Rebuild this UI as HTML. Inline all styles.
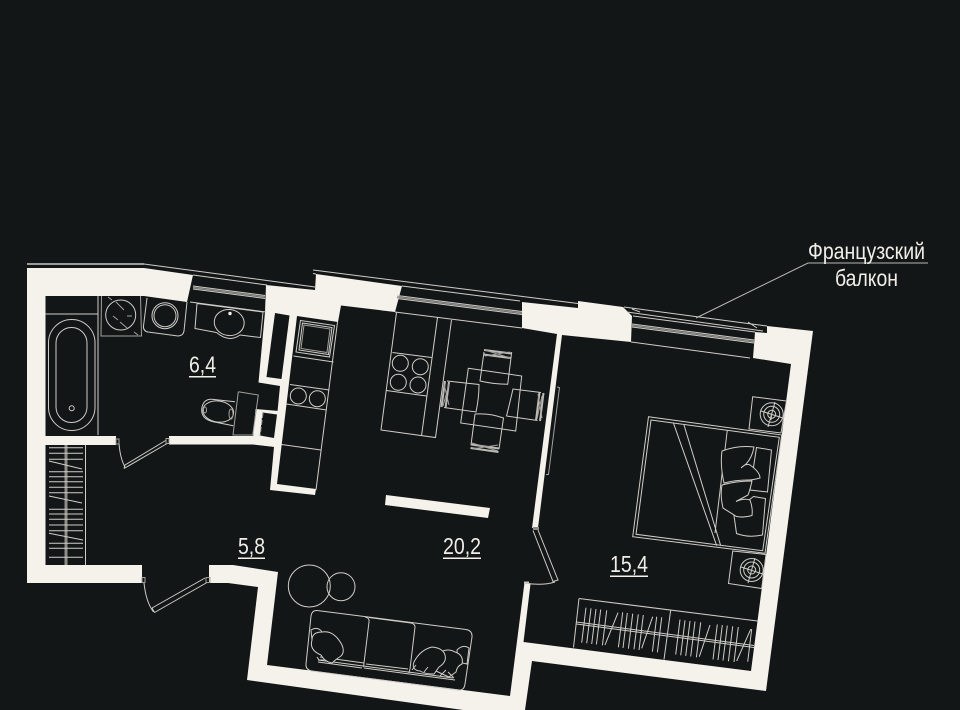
<!DOCTYPE html>
<html lang="ru">
<head>
<meta charset="utf-8">
<title>План квартиры</title>
<style>
html,body{margin:0;padding:0;background:#131617;}
svg{display:block;}
text{font-family:"Liberation Sans",sans-serif;fill:#f0eee8;}
.l{fill:none;stroke:#cfcdc8;stroke-width:1;}
.g{fill:none;stroke:#a2a19d;stroke-width:1;}
.b{fill:#131617;stroke:#cfcdc8;stroke-width:1;}
.w{fill:#f5f2ec;}
.d{fill:#131617;}
</style>
</head>
<body>
<svg width="960" height="710" viewBox="0 0 960 710" xmlns="http://www.w3.org/2000/svg">
<rect width="960" height="710" fill="#131617"/>

<!-- walls -->
<polygon class="w" points="27,268 144,268 193,275 187,302 144,296 45.5,296 45.5,436 116,436 116,445 45.5,445 45.5,565 142,565 142,583 27,583"/>
<polygon class="w" points="169,436 253,436 280,440 275,447 253,444.5 169,444.5"/>
<polygon class="w" points="209,565 233,565 278,572 267,665 510,696 524.5,582.5 530.5,584 523.5,642 751,671 791,364 753,358 755,332 767,333 767,326 813,331 766,691 532,661 525,710 463,710 247,680 258,587 228,583 209,583"/>
<polygon class="w" points="266,285 315,290 316,274 402,286 395,312 341,305.5 338,322 297,316 277,484 316,489 315,495 270,490 274,447 280,386 258.5,382.5 265,312"/>
<polygon class="d" points="275,313 289.5,315.5 281.5,379 266.5,377"/>
<polygon class="w" points="255.5,409 279,411 275,447 252.5,444"/>
<polygon class="d" points="262.5,412.5 277,414.5 274,438 260,435.5"/>
<polygon class="w" points="522,302 578,308 578,301 623,307 632,316 631,342 562,335 538,528 532,528 557,334 522,328"/>
<polygon class="w" points="386,495 490,508 488,518 385,505"/>

<!-- upper lines and windows, left section -->
<path d="M27,264H144" fill="none" stroke="#9c9b97" stroke-width="2"/>
<path class="l" d="M144,264L315,287"/>
<path class="l" d="M193,275L267,285"/>
<path class="l" d="M193,286L265,295.5M193,289L265,298.5M190,302L266,312"/>
<path class="l" d="M313,270L578,303.5M313,273.5L316,274"/>
<path class="l" d="M402,286L520,301"/>
<path class="l" d="M397,295.5L522,311.5M397,298.5L522,314.5M395,312L522,328"/>
<path d="M397,297L522,313" stroke="#8d8c88" stroke-width="1.5" fill="none"/>
<path d="M193,287.5L265,297" stroke="#8d8c88" stroke-width="1.5" fill="none"/>

<!-- French balcony -->
<path class="l" d="M624,307L767,326M627,312L763,331M633,316L755,332M632,324L754,340M632,327L754,343M631,342L750,358M632,309L640,312M748,322L757,328"/>
<path d="M632,325.5L754,341.5" stroke="#8d8c88" stroke-width="1.5" fill="none"/>
<path d="M696,318L808,263H928" fill="none" stroke="#b9b8b3" stroke-width="1"/>
<text x="808" y="259" font-size="23" textLength="117" lengthAdjust="spacingAndGlyphs">Французский</text>
<text x="835" y="286" font-size="23" textLength="63" lengthAdjust="spacingAndGlyphs">балкон</text>

<!-- bath -->
<path class="l" d="M45,314H98M98,296V435"/>
<rect class="l" x="48.5" y="319.5" width="46.5" height="111" rx="23.2"/>
<rect class="l" x="56" y="327.5" width="31" height="95" rx="15.5"/>
<circle class="l" cx="71.7" cy="408.3" r="2.5"/>

<!-- washer -->
<path class="g" d="M101.5,296L101,336H141.5L140.5,296"/>
<circle class="l" cx="120.7" cy="315" r="15"/>
<path class="g" d="M108,297L112,300M116,302L124,310M127,316H132M113,316L118,320M120,322L127,328M134,332L138,335"/>
<path class="l" d="M147,298L143.5,326Q143,331 148,332L178,336Q183,336 184,331L187,302"/>
<circle class="l" cx="165" cy="315.7" r="13"/>
<circle class="l" cx="165" cy="315.7" r="11"/>

<!-- sink -->
<path class="l" d="M197,303.5L195,328.5L216.5,332.5M240,335L260.5,337.5L263,312M197,303.5L263,312"/>
<ellipse class="l" cx="229.3" cy="322.5" rx="15" ry="13" transform="rotate(8 229 322)"/>
<path class="l" d="M216.5,332.5Q229,343 240,335"/>
<circle cx="230" cy="313.5" r="1.7" fill="#f5f2ec"/>

<!-- toilet -->
<path class="g" d="M238.3,391.7L258.3,395L252.7,435H233L238.3,391.7"/>
<path class="l" d="M235,401.7L211.7,399.3Q203,399 201.7,409Q201,419 213.3,421.7L233.3,425.7"/>
<ellipse class="l" cx="218.3" cy="411.5" rx="15.5" ry="10.5" transform="rotate(8 218 411)"/>
<ellipse class="g" cx="205" cy="410" rx="1.5" ry="3"/>
<ellipse class="g" cx="231" cy="414" rx="2" ry="5"/>
<path class="g" d="M263,413L260,436" stroke-dasharray="5 2"/>

<!-- door 1 -->
<path class="l" d="M119,443Q120,458 125,467"/>
<path class="l" d="M125,465L166.5,440M124,468.5L168,443M125,465L124,468.5"/>
<rect class="g" x="116" y="439" width="3" height="5"/>
<rect class="g" x="166" y="438.5" width="3" height="5"/>

<!-- hall wardrobe -->
<path class="l" d="M85.5,445V565"/>
<path d="M66,445V565" stroke="#8d8c88" stroke-width="3" fill="none"/>
<path class="l" d="M49,447.7H83M49,453.3H83M49,459.3H83M49,461L82,469M49,471.7H83M49,476.7H83M49,481.7H83M49,487.3H83M49,492.7H83M49,496L82,503M49,509.3H83M49,514H83M49,519.3H83M49,525H83M49,530.7H83M49,533.3L83,540M49,543.3H83M49,548.3H83M49,557.3H83"/>

<!-- door 2 -->
<path class="l" d="M144,583Q146,602 153.5,612"/>
<path class="l" d="M152,608L205,578M154.5,612.5L207,582.5M152,608L154.5,612.5"/>
<rect class="g" x="142" y="577.5" width="3" height="5"/>
<rect class="g" x="206" y="577.5" width="4" height="5"/>

<!-- kitchen -->
<path class="l" d="M337.5,322L316,490"/>
<polygon class="l" points="300.5,320.5 334.5,325.5 329.5,357 296,352"/>
<polygon class="l" points="302.5,323 332,327.5 328.5,354.5 299,350"/>
<polygon class="g" points="304,325 330,329 327,352.5 301,348.5"/>
<path class="l" d="M293.5,356L333.5,362M290,384.5L329.5,390M286.5,404L326.5,410M281.5,444.5L321,450"/>
<circle class="l" cx="298.3" cy="396" r="8"/>
<circle class="l" cx="317.3" cy="398.7" r="8"/>

<!-- island -->
<path class="l" d="M396.5,312.5L381,430L435.5,437.5L451.5,320M437.5,317.5L421.5,436M392.5,352.5L431.5,357.5M386.5,390.5L426.5,396"/>
<circle class="l" cx="400.3" cy="363.3" r="8"/>
<circle class="l" cx="420.3" cy="366.7" r="8"/>
<circle class="l" cx="398.3" cy="382.3" r="8"/>
<circle class="l" cx="418" cy="385" r="8"/>

<!-- dining -->
<polygon class="l" points="468.3,368.3 521.7,376 515.7,431 460.7,423"/>
<path class="l" d="M484,352L480,381Q493,384 507.7,384.3L511.7,352"/>
<path d="M484,350L511.5,353.5M483.5,354.5L510.5,358" stroke="#bdbbb6" stroke-width="2" fill="none"/>
<path class="g" d="M485,350L510,358M510,352L485,356"/>
<path class="l" d="M475,414Q490,413 503.5,418L499,449M475,414L471,445"/>
<path d="M471,444.5L499,448.5M470.5,448L498.5,452" stroke="#bdbbb6" stroke-width="2" fill="none"/>
<path class="g" d="M472,443L498,451M498,445L472,449"/>
<path class="l" d="M447,381L479,384.5Q479,398 476,412L444,407.5"/>
<path d="M445,381L441.5,407M449,382L445.5,408" stroke="#bdbbb6" stroke-width="2" fill="none"/>
<path class="g" d="M444,384L449,405M449,384L443,406"/>
<path class="l" d="M541,392.5L513,389Q510,402 506.5,416L537.5,420.5"/>
<path d="M543.5,393L540,421M539.5,392.5L536,420.5" stroke="#bdbbb6" stroke-width="2" fill="none"/>
<path class="g" d="M538,394L542,418M542,396L537,419"/>

<!-- partition wardrobe next to wall -->
<path class="g" d="M557,387L559.5,387.5L548.5,474.5H546"/>

<!-- bed side -->
<polygon class="l" points="752.7,396.7 786.5,401 781,433 749,429"/>
<circle class="l" cx="771.7" cy="414.3" r="11.5"/>
<circle class="l" cx="771.7" cy="414.3" r="8"/>
<circle class="l" cx="771.7" cy="414.3" r="4"/>
<path class="l" d="M761,411L783,418M775,402L768,427M771.7,414.3L771,420"/>
<polygon class="l" points="732.7,551 766,554.5 761.7,588.5 728.5,583.5"/>
<circle class="l" cx="751.7" cy="570" r="11.5"/>
<circle class="l" cx="751.7" cy="570" r="8"/>
<circle class="l" cx="751.7" cy="570" r="4"/>
<path class="l" d="M741,567L763,574M755,558L748,583"/>

<!-- bed -->
<polygon class="l" points="648.5,416.7 781.7,435 765,553.3 632.7,536.7"/>
<polygon class="l" points="651,420 779.3,437.3 762.7,550.7 636,534.3"/>
<path class="l" d="M673.3,422.7L716.7,545.7M684,425L720.7,545.7M727.3,430L715,533"/>
<path class="b" d="M756.5,447.5L771.5,450L767.5,492L750,490Z"/>
<path class="b" d="M753.5,496.5L765.5,498.5L762.5,535Q748,538 736.5,533.5L733.5,512Z"/>
<path class="b" d="M722,451Q738,445 754,447Q752,458 746,464L741,468Q746,463 750,465Q760,472 760,478Q753,480 748,480Q735,480 724,483Q720,465 722,451Z"/>
<path class="b" d="M722,485Q736,481 752,481Q750,490 748,495L736,501.5Q744,498 750,500Q753,508 752,515.5Q744,518 736.5,516.5L723,508Q720,495 722,485Z"/>

<!-- closet bedroom -->
<path class="l" d="M579,598.5L757.5,621M579,598.5L573.5,647.5M670.7,610L664,659.5"/>
<path class="l" d="M576.5,622L754,645.5M576.5,624L754,647.5"/>
<path class="l" d="M586,607.7l-4.3,35M591,608.3l-4.3,35M596,609l-4.3,35M600.7,609.5l-4.3,35M606.7,610.3l-4.3,35M618,612.7L605,645M622.7,612.3l-4.3,35M627.3,613l-4.3,35M632.7,613.7l-4.3,35M638.3,614.3l-4.3,35M643.3,615l-4.3,35M652.7,616.7L641.7,648.3M656.7,616.7l-4.3,35M661.7,617.3l-4.3,35M680,619.6l-4.3,35M685,620.3l-4.3,35M690,620.9l-4.3,35M695,621.5l-4.3,35M700.7,622.3l-4.3,35M710,625L699.3,656.7M717.3,624.4l-4.3,35M722.3,625l-4.3,35M727.3,625.6l-4.3,35M732.7,626.3l-4.3,35M738.3,627l-4.3,35M750.7,629.3L736.7,661M751.7,629L747.7,661.7"/>

<!-- door 3 -->
<path class="l" d="M525,583Q542,586 555,582"/>
<path class="l" d="M533,530.5L553,581.5L558,580L538,530"/>
<rect x="533" y="527" width="6" height="3" fill="#8d8c88"/>
<rect x="524" y="581.5" width="5" height="2.5" fill="#c9c7c2"/>

<!-- sofa -->
<circle class="l" cx="309.3" cy="586" r="21"/>
<circle class="l" cx="341" cy="586.7" r="14"/>
<path class="l" d="M317,610.5L466,629.5Q472.5,630.5 472,637L465,684Q464,691 458,690L312,671Q305.5,670 306,664L311,616Q312,610 317,610.5Z"/>
<path class="l" d="M365,617Q369.5,617.5 369,622L364,663Q363.5,667 364,667M369,617.5L411,623Q415,624 415,627L410,669Q409,672 409,673"/>
<path class="l" d="M318,660L453,678M320,657L364,663M366,664L408,669M318,662L362,668M364,668L455,680"/>
<path class="b" d="M311,630Q318,626 322,632L322,640L312,640Z"/>
<path class="b" d="M312,640Q312,632 322,632Q334,630 342,645Q345,652 341,656Q336,659 332,663Q325,662 321,655Q309,650 312,640Z"/>
<path class="l" d="M317,657L319,660L324,660"/>
<path class="b" d="M457,650Q463,644 469,648L467,664L458,662Z"/>
<path class="b" d="M441,652Q448,648 455,652Q464,655 462,664Q457,666 456,672L449,677Q442,674 436,671Q430,662 441,652Z"/>
<path class="b" d="M414,662Q420,650 432,647Q443,648 445,655Q447,662 439,667L434,674Q425,674 420,671Q411,670 414,662Z"/>
<path class="l" d="M412,670L416,665M424,672L428,667M440,676L446,670M454,678L448,672"/>

<!-- area labels -->
<text x="189" y="372.5" font-size="23" textLength="27" lengthAdjust="spacingAndGlyphs">6,4</text>
<rect x="189" y="376" width="27" height="1.5" fill="#f5f2ec"/>
<text x="238" y="554" font-size="23" textLength="27" lengthAdjust="spacingAndGlyphs">5,8</text>
<rect x="238" y="557.5" width="27" height="1.5" fill="#f5f2ec"/>
<text x="443" y="554" font-size="23" textLength="38" lengthAdjust="spacingAndGlyphs">20,2</text>
<rect x="443" y="557.5" width="38" height="1.5" fill="#f5f2ec"/>
<text x="610" y="572" font-size="23" textLength="38" lengthAdjust="spacingAndGlyphs">15,4</text>
<rect x="610" y="575.5" width="38" height="1.5" fill="#f5f2ec"/>
</svg>
</body>
</html>
